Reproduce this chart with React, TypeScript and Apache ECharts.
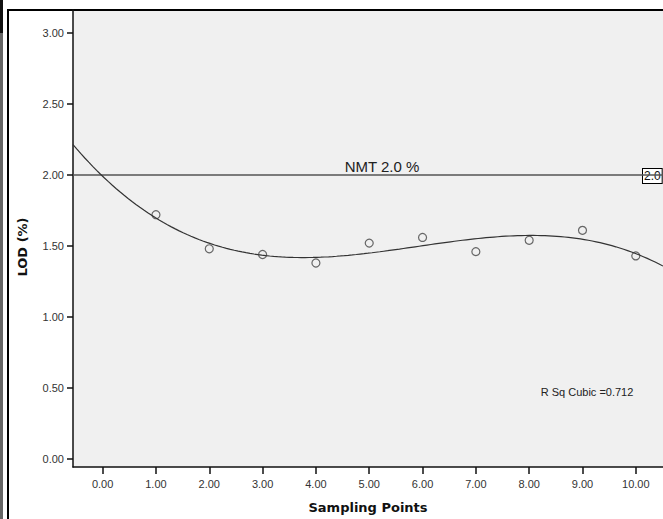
import React, { useEffect, useRef } from "react";
import * as echarts from "echarts";

const sampleX = [1, 2, 3, 4, 5, 6, 7, 8, 9, 10];
const lodValues = [1.72, 1.48, 1.44, 1.38, 1.52, 1.56, 1.46, 1.54, 1.61, 1.43];
const refValue = 2.0;
const xTicks = [0, 1, 2, 3, 4, 5, 6, 7, 8, 9, 10];
const yTicks = [0, 0.5, 1, 1.5, 2, 2.5, 3];
const X_MIN = -0.556;
const X_MAX = 10.51;

// Cubic least-squares fit of the data (the chart's "R Sq Cubic" curve)
function cubicFit(xs: number[], ys: number[]): number[] {
  const n = 4;
  const A: number[][] = Array.from({ length: n }, () => new Array(n + 1).fill(0));
  for (let k = 0; k < xs.length; k++) {
    for (let i = 0; i < n; i++) {
      for (let j = 0; j < n; j++) A[i][j] += Math.pow(xs[k], i + j);
      A[i][n] += ys[k] * Math.pow(xs[k], i);
    }
  }
  for (let i = 0; i < n; i++) {
    let p = i;
    for (let r = i + 1; r < n; r++) if (Math.abs(A[r][i]) > Math.abs(A[p][i])) p = r;
    [A[i], A[p]] = [A[p], A[i]];
    for (let r = 0; r < n; r++) {
      if (r === i) continue;
      const f = A[r][i] / A[i][i];
      for (let c = i; c <= n; c++) A[r][c] -= f * A[i][c];
    }
  }
  return A.map((row, i) => row[n] / row[i]);
}

export default function App() {
  const ref = useRef<HTMLDivElement>(null);
  useEffect(() => {
    if (!ref.current) return;
    const chart = echarts.init(ref.current, null, { renderer: "svg" });
    const font = "'Liberation Sans', Arial, sans-serif";
    const coef = cubicFit(sampleX, lodValues);
    const steps = 150;
    const fitData: number[][] = [];
    for (let s = 0; s <= steps; s++) {
      const x = X_MIN + ((X_MAX - X_MIN) * s) / steps;
      fitData.push([x, coef[0] + coef[1] * x + coef[2] * x * x + coef[3] * x * x * x]);
    }
    chart.setOption({
      animation: false,
      backgroundColor: "#ffffff",
      grid: { left: 73, top: 10, width: 590, height: 460, show: true, backgroundColor: "#f0f0f0", borderWidth: 0 },
      xAxis: {
        type: "value",
        min: X_MIN,
        max: X_MAX,
        axisLine: { show: true, onZero: false, lineStyle: { color: "#111", width: 1.5 } },
        axisTick: { show: true, length: 7, customValues: xTicks, lineStyle: { color: "#111", width: 1.5 } },
        axisLabel: { customValues: xTicks, formatter: (v: number) => v.toFixed(2), color: "#333", fontSize: 11, fontFamily: font, margin: 11 },
        splitLine: { show: false },
        name: "Sampling Points",
        nameLocation: "middle",
        nameGap: 34,
        nameTextStyle: { fontWeight: "bold", fontSize: 13, color: "#111", fontFamily: "'DejaVu Sans', sans-serif" },
      },
      yAxis: {
        type: "value",
        min: -0.056,
        max: 3.161,
        axisLine: { show: true, onZero: false, lineStyle: { color: "#111", width: 1.5 } },
        axisTick: { show: true, length: 6, customValues: yTicks, lineStyle: { color: "#111", width: 1.5 } },
        axisLabel: { customValues: yTicks, formatter: (v: number) => v.toFixed(2), color: "#333", fontSize: 11, fontFamily: font, margin: 9 },
        splitLine: { show: false },
      },
      series: [
        {
          type: "line",
          data: [[X_MIN, refValue], [X_MAX, refValue]],
          showSymbol: false,
          lineStyle: { color: "#555", width: 1.6 },
          silent: true,
        },
        {
          type: "line",
          data: fitData,
          showSymbol: false,
          lineStyle: { color: "#333", width: 1.2 },
          silent: true,
        },
        {
          type: "scatter",
          data: sampleX.map((x, i) => [x, lodValues[i]]),
          symbol: "circle",
          symbolSize: 8,
          itemStyle: { color: "rgba(0,0,0,0)", borderColor: "#444", borderWidth: 1.2 },
        },
      ],
      graphic: [
        { type: "rect", shape: { x: 0, y: 0, width: 3, height: 519 }, style: { fill: "#666" } },
        { type: "rect", shape: { x: 0, y: 0, width: 3, height: 33 }, style: { fill: "#111" } },
        { type: "rect", shape: { x: 7, y: 9, width: 2, height: 510 }, style: { fill: "#000" } },
        { type: "rect", shape: { x: 7, y: 9, width: 656, height: 2 }, style: { fill: "#000" } },
        {
          type: "text",
          x: 22,
          y: 247,
          rotation: Math.PI / 2,
          style: { text: "LOD (%)", fill: "#111", font: `bold 13px 'DejaVu Sans', sans-serif`, align: "center", verticalAlign: "middle" },
        },
        {
          type: "text",
          x: 382,
          y: 166,
          style: { text: "NMT 2.0 %", fill: "#222", font: `15px ${font}`, align: "center", verticalAlign: "middle" },
        },
        {
          type: "text",
          x: 643,
          y: 176,
          style: {
            text: "2.0",
            fill: "#111",
            font: `12px ${font}`,
            align: "left",
            verticalAlign: "middle",
            backgroundColor: "#fff",
            borderColor: "#000",
            borderWidth: 1,
            padding: [1, 1, 1, 1],
          },
        },
        {
          type: "text",
          x: 587,
          y: 392,
          style: { text: "R Sq Cubic =0.712", fill: "#222", font: `11px ${font}`, align: "center", verticalAlign: "middle" },
        },
      ],
    });
    return () => chart.dispose();
  }, []);
  return <div ref={ref} style={{ position: "absolute", left: 0, top: 0, width: 663, height: 519 }} />;
}
